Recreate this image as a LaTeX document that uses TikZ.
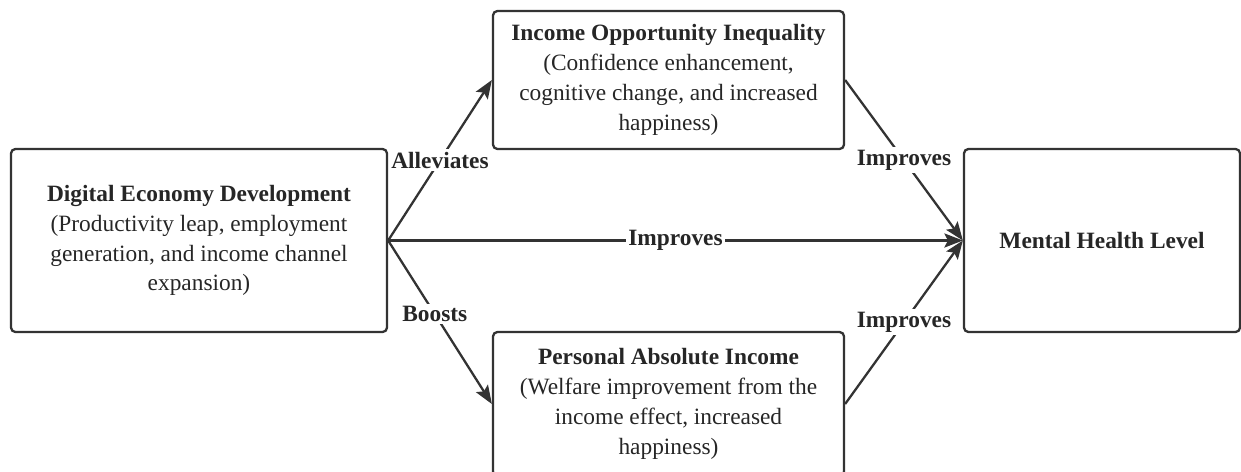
\documentclass[tikz,border=0pt]{standalone}
\usepackage{fontspec}
\setmainfont{Liberation Serif}
\usetikzlibrary{arrows.meta}

\definecolor{ink}{HTML}{333333}

\begin{document}
\begin{tikzpicture}[font=\fontsize{13.3}{17}\selectfont, color=ink]
	\tikzstyle{place}=[rectangle, draw=ink, line width=1.3pt, rounded corners=2.5pt, align=center, text=black!85]
	\tikzstyle{link}=[draw=ink, line width=1.3pt, -{Stealth[length=10.5pt, width=8pt, inset=2pt]}]
	\tikzstyle{tag}=[fill=white, inner sep=1.5pt, font=\fontsize{13.3}{17}\selectfont\bfseries, text=black!85]
	\clip (0, 0) rectangle (24.82, -9.44);
	\draw node[place, minimum width=7.52cm, minimum height=3.66cm] at (3.98, -4.81) (digital) {\textbf{Digital Economy Development}\\(Productivity leap, employment\\generation, and income channel\\expansion)};
	\draw node[place, minimum width=7.02cm, minimum height=2.76cm] at (13.37, -1.6) (inequality) {\textbf{Income Opportunity Inequality}\\(Confidence enhancement,\\cognitive change, and increased\\happiness)};
	\draw node[place, minimum width=7.02cm, minimum height=2.88cm] at (13.37, -8.08) (income) {\textbf{Personal Absolute Income}\\(Welfare improvement from the\\income effect, increased\\happiness)};
	\draw node[place, minimum width=5.52cm, minimum height=3.66cm] at (22.04, -4.81) (health) {\textbf{Mental Health Level}};
	
	\draw [link]  (digital.east) -- (inequality.west) node[pos=.5, tag] {Alleviates} ;
	\draw [link]  (digital.east) -- (income.west) node[pos=.45, tag] {Boosts} ;
	\draw [link]  (digital.east) -- (health.west) node[pos=.5, tag] {Improves} ;
	\draw [link]  (inequality.east) -- (health.west) node[pos=.5, tag] {Improves} ;
	\draw [link]  (income.east) -- (health.west) node[pos=.5, tag] {Improves} ;
	\end{tikzpicture}
\end{document}
